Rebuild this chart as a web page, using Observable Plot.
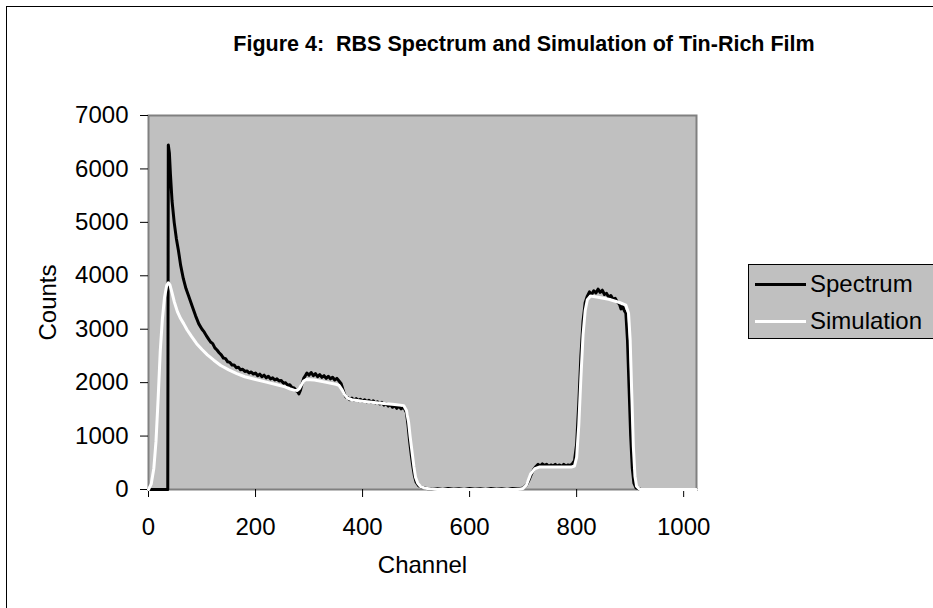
<!DOCTYPE html>
<html><head><meta charset="utf-8">
<script src="https://cdn.jsdelivr.net/npm/d3@7"></script>
<script src="https://cdn.jsdelivr.net/npm/@observablehq/plot@0.6"></script>
<style>
body{margin:0;background:#fff;}
#wrap{position:relative;width:933px;height:608px;overflow:hidden;font-family:Arial,"Liberation Sans",sans-serif;}
#chart{position:absolute;left:0;top:0;}
#border{position:absolute;left:6px;top:6px;width:1000px;height:700px;border:1.5px solid #000;box-sizing:border-box;pointer-events:none;}
#title{position:absolute;left:0;width:1048px;top:32px;line-height:24px;text-align:center;font-weight:bold;font-size:21.5px;white-space:pre;color:#000;}
#legend{position:absolute;left:748px;top:264px;width:220px;height:75px;background:#c0c0c0;border:1px solid #000;box-sizing:border-box;}
.row{position:absolute;left:0;height:30px;display:flex;align-items:center;}
.sw{width:51px;height:3px;margin-left:6px;margin-right:4px;}
.lab{font-size:24px;color:#000;}
</style></head>
<body>
<div id="wrap">
  <div id="chart"></div>
  <div id="title"></div>
  <div id="legend"></div>
  <div id="border"></div>
</div>
<script>
const titleText = "Figure 4:  RBS Spectrum and Simulation of Tin-Rich Film";
const xLabel = "Channel";
const yLabel = "Counts";
const seriesNames = ["Spectrum", "Simulation"];
const seriesColors = ["#000000", "#ffffff"];
const xTicks = [0, 200, 400, 600, 800, 1000];
const yTicks = [0, 1000, 2000, 3000, 4000, 5000, 6000, 7000];

const spectrumChannel = [0,36,37,39,41,44,48,52,56,60,65,70,75,82,88,94,
  100,104,108,112,116,120,124,128,132,136,140,144,148,152,156,160,164,168,172,176,180,184,188,192,196,200,204,208,212,216,220,224,228,232,236,240,244,248,252,256,260,264,268,272,276,279,281,284,287,290,293,296,300,304,308,312,316,320,324,328,332,336,340,344,348,352,356,360,363,366,369,372,376,380,384,388,392,396,400,404,408,412,416,420,424,428,432,436,440,444,448,452,456,460,464,468,472,476,479,482,485,488,491,494,497,500,505,512,
  520,530,540,550,560,570,580,590,600,610,620,630,640,650,660,670,680,690,700,706,712,716,
  720,724,728,732,736,740,744,748,752,756,760,764,768,772,776,780,784,788,792,796,800,804,808,812,816,820,824,828,832,836,840,844,848,852,856,860,864,868,872,876,880,883,886,889,892,895,898,901,904,907,911,920,1024];
const spectrumCounts = [0,0,6450,6300,5900,5400,5000,4700,4470,4200,3950,3760,3620,3420,3250,3100,
  3000,2950,2880,2820,2760,2730,2650,2610,2560,2520,2460,2450,2390,2380,2330,2330,2280,2290,2240,2250,2210,2220,2180,2200,2160,2180,2130,2160,2110,2140,2090,2120,2070,2090,2050,2070,2030,2040,1990,2000,1950,1960,1910,1900,1850,1830,1790,1860,1980,2080,2130,2180,2140,2190,2130,2170,2110,2150,2100,2130,2080,2120,2070,2100,2050,2080,2030,1980,1880,1790,1730,1720,1680,1710,1670,1700,1660,1690,1650,1680,1640,1670,1630,1660,1620,1640,1600,1630,1580,1610,1560,1590,1540,1570,1520,1560,1510,1540,1500,1440,1200,900,650,430,250,140,70,40,
  20,5,15,0,20,5,15,0,20,5,15,0,20,5,15,0,20,10,30,80,200,300,
  380,430,470,440,480,450,470,430,460,440,470,440,460,430,470,440,460,450,480,540,850,1600,2500,3150,3500,3620,3700,3650,3720,3680,3750,3690,3730,3650,3670,3600,3630,3560,3580,3510,3470,3380,3430,3350,3300,2800,1900,1000,400,120,30,0,0];

const simChannel = [0,5,10,14,18,22,26,30,34,37,40,44,48,54,60,66,72,80,90,100,110,122,135,150,165,180,200,220,240,255,265,272,278,282,286,290,295,310,330,350,356,362,366,372,380,400,430,460,477,482,486,489,493,496,499,503,508,515,527,540,690,700,706,714,722,730,760,790,796,800,804,808,812,816,820,826,840,860,880,892,897,900,903,906,909,912,918,1024];
const simCounts = [0,100,400,900,1700,2600,3200,3600,3820,3870,3830,3680,3520,3330,3200,3100,2990,2870,2730,2620,2520,2420,2320,2240,2170,2110,2060,2010,1960,1920,1880,1860,1855,1890,1960,2030,2060,2050,2010,1970,1950,1860,1780,1710,1680,1650,1620,1590,1570,1480,1260,980,660,420,230,120,60,30,10,0,0,20,80,290,390,420,420,420,440,600,1200,2100,2900,3350,3550,3620,3600,3560,3500,3450,3300,2800,1800,800,250,60,0,0];

const spectrum = spectrumChannel.map((c, i) => ({channel: c, counts: spectrumCounts[i]}));
const simulation = simChannel.map((c, i) => ({channel: c, counts: simCounts[i]}));

const plot = Plot.plot({
  width: 933,
  height: 608,
  marginLeft: 148,
  marginRight: 237,
  marginTop: 115,
  marginBottom: 119,
  style: {background: "transparent", fontFamily: "Arial, 'Liberation Sans', sans-serif", fontSize: "24px", color: "#000", overflow: "visible"},
  x: {domain: [0, 1024], ticks: xTicks, tickSize: 8, tickPadding: 20, label: null},
  y: {domain: [0, 7000], ticks: yTicks, tickSize: 8, tickPadding: 12, label: null},
  marks: [
    Plot.frame({fill: "#c0c0c0", stroke: null}),
    Plot.frame({stroke: "#808080", strokeWidth: 2}),
    Plot.axisX({ticks: xTicks, tickSize: 8, tickPadding: 20, fontSize: 24, stroke: "#000", tickFormat: d => String(d), label: null}),
    Plot.axisY({ticks: yTicks, tickSize: 8, tickPadding: 12, fontSize: 24, stroke: "#000", tickFormat: d => String(d), label: null}),
    Plot.line(spectrum, {x: "channel", y: "counts", stroke: seriesColors[0], strokeWidth: 3, strokeLinejoin: "round"}),
    Plot.line(simulation, {x: "channel", y: "counts", stroke: seriesColors[1], strokeWidth: 3, strokeLinejoin: "round"}),
    Plot.text([xLabel], {frameAnchor: "bottom", dy: 76, lineAnchor: "middle", fontSize: 24, fill: "#000"}),
    Plot.text([yLabel], {frameAnchor: "left", dx: -100, rotate: -90, textAnchor: "middle", lineAnchor: "middle", fontSize: 24, fill: "#000"})
  ]
});
document.getElementById("chart").appendChild(plot);

document.getElementById("title").textContent = titleText;
const leg = document.getElementById("legend");
seriesNames.forEach((name, i) => {
  const row = document.createElement("div");
  row.className = "row";
  row.style.top = (4 + i * 37) + "px";
  const sw = document.createElement("div");
  sw.className = "sw";
  sw.style.background = seriesColors[i];
  const lab = document.createElement("span");
  lab.className = "lab";
  lab.textContent = name;
  row.appendChild(sw); row.appendChild(lab);
  leg.appendChild(row);
});
</script>
</body></html>
